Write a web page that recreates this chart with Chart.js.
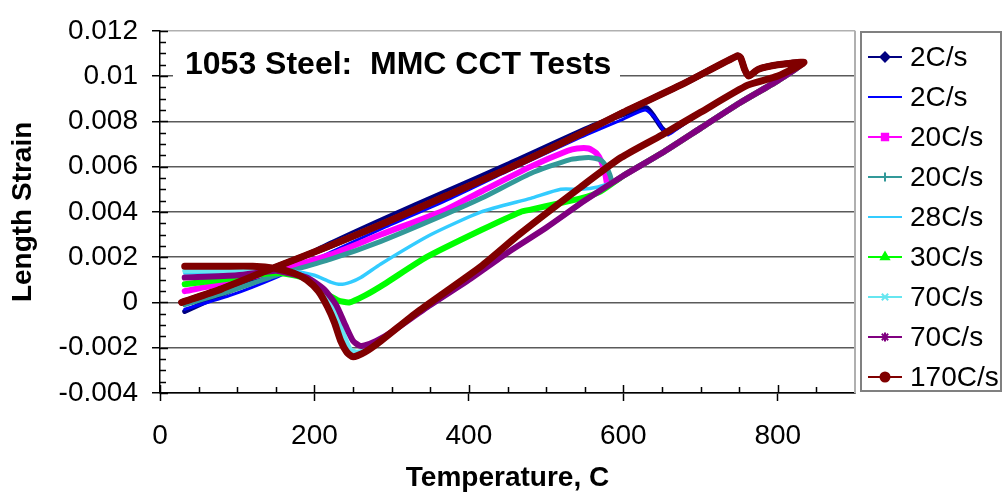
<!DOCTYPE html>
<html>
<head>
<meta charset="utf-8">
<script src="https://cdn.jsdelivr.net/npm/chart.js@4.4.1/dist/chart.umd.min.js"></script>
<style>
  html, body { margin: 0; padding: 0; background: #fff; }
</style>
</head>
<body>
<canvas id="cct" width="1003" height="498"></canvas>
<script>
// legend names, colours and markers, one per test
const seriesLabels = ['2C/s', '2C/s', '20C/s', '20C/s', '28C/s', '30C/s', '70C/s', '70C/s', '170C/s'];
const seriesColors = ['#000080', '#0000ff', '#ff00ff', '#339999', '#33ccff', '#00ff00', '#66e6f0', '#800080', '#800000'];
const markerStyles = ['rectRot', 'line', 'rect', 'cross', 'line', 'triangle', 'crossRot', 'star', 'circle'];
const lineWidths = [5, 3, 6, 5, 3.5, 6, 5, 6, 7];

const xTickLabels = ['0', '200', '400', '600', '800'];
const yTickLabels = ['-0.004', '-0.002', '0', '0.002', '0.004', '0.006', '0.008', '0.01', '0.012'];

// [temperature C, length strain] - heating leg, shared by every test
const heating = [[28, 0.0000], [80, 0.0006], [145, 0.0015], [220, 0.0025], [290, 0.0035], [370, 0.0047],
  [450, 0.0059], [530, 0.0072], [600, 0.0084], [680, 0.0097], [748, 0.0109]];
// drop at Ac and austenite heating to peak temperature
const austenite = [[752, 0.0108], [757, 0.0103], [762, 0.0100], [775, 0.0103], [800, 0.0105], [834, 0.0106]];

// cooling legs
const cool2a = [[800, 0.0100], [761, 0.0096], [700, 0.0084], [658, 0.0075], [650, 0.0077], [640, 0.0082],
  [630, 0.0086], [600, 0.0083], [560, 0.0078], [450, 0.0061], [370, 0.0049], [290, 0.0037], [220, 0.0026],
  [150, 0.0014], [90, 0.0005], [32, -0.0004]];
const cool2b = [[800, 0.0100], [761, 0.0096], [700, 0.0084], [658, 0.0074], [652, 0.0076], [640, 0.0082],
  [628, 0.0085], [600, 0.0081], [545, 0.0073], [450, 0.0058], [370, 0.0045], [290, 0.0033], [220, 0.0022],
  [150, 0.0011], [90, 0.0003], [32, -0.0003]];
const cool20a = [[800, 0.0098], [750, 0.0088], [700, 0.0077], [650, 0.0066], [600, 0.0056], [580, 0.0052],
  [577, 0.0056], [572, 0.0062], [565, 0.0066], [555, 0.0068], [540, 0.0068], [528, 0.0067], [480, 0.0060],
  [416, 0.0049], [370, 0.0041], [286, 0.0030], [220, 0.0021], [150, 0.0014], [90, 0.0009], [32, 0.0005]];
const cool20b = [[800, 0.0098], [750, 0.0088], [700, 0.0077], [650, 0.0066], [600, 0.0056], [586, 0.0053],
  [583, 0.0056], [578, 0.0060], [570, 0.0063], [555, 0.0064], [530, 0.0063], [480, 0.0057], [416, 0.0046],
  [370, 0.0039], [286, 0.0027], [220, 0.0019], [150, 0.0012], [90, 0.0005], [32, -0.0001]];
const cool28 = [[800, 0.0098], [750, 0.0088], [700, 0.0077], [650, 0.0066], [600, 0.0056], [585, 0.0053],
  [567, 0.0051], [545, 0.0050], [519, 0.0050], [480, 0.0046], [416, 0.0040], [351, 0.0030], [286, 0.0017],
  [260, 0.0011], [247, 0.0009], [234, 0.0008], [221, 0.0009], [200, 0.0012], [170, 0.0014], [150, 0.0014],
  [100, 0.0013], [32, 0.0013]];
const cool30 = [[800, 0.0098], [750, 0.0088], [700, 0.0077], [650, 0.0066], [600, 0.0056], [570, 0.0049],
  [545, 0.0046], [519, 0.0044], [480, 0.0041], [467, 0.0040], [416, 0.0032], [345, 0.0020], [290, 0.0008],
  [265, 0.0003], [245, 0.0000], [230, 0.0001], [210, 0.0005], [185, 0.0011], [150, 0.0013], [100, 0.0011],
  [32, 0.0008]];
const cool70a = [[800, 0.0098], [750, 0.0088], [700, 0.0077], [650, 0.0066], [600, 0.0056], [550, 0.0045],
  [500, 0.0033], [450, 0.0022], [400, 0.0010], [342, -0.0003], [300, -0.0013], [280, -0.0018], [265, -0.0021],
  [255, -0.0022], [247, -0.0021], [240, -0.0016], [230, -0.0007], [217, 0.0002], [197, 0.0009], [172, 0.0013],
  [150, 0.0014], [100, 0.0014], [32, 0.0014]];
const cool70b = [[800, 0.0098], [750, 0.0088], [700, 0.0077], [650, 0.0066], [600, 0.0056], [550, 0.0045],
  [500, 0.0033], [450, 0.0022], [400, 0.0010], [342, -0.0003], [300, -0.0013], [280, -0.0017], [265, -0.0019],
  [258, -0.0019], [250, -0.0017], [240, -0.0010], [228, -0.0001], [212, 0.0006], [190, 0.0011], [165, 0.0013],
  [150, 0.0014], [100, 0.0012], [32, 0.0011]];
const cool170 = [[800, 0.0100], [761, 0.0096], [700, 0.0084], [650, 0.0074], [597, 0.0064], [545, 0.0051],
  [465, 0.0030], [416, 0.0016], [334, -0.0004], [286, -0.0017], [265, -0.0022], [250, -0.0024], [242, -0.0022],
  [234, -0.0017], [226, -0.0009], [217, -0.0002], [205, 0.0005], [190, 0.0010], [173, 0.0013], [150, 0.0015],
  [120, 0.0016], [80, 0.0016], [32, 0.0016]];

const coolingLegs = [cool2a, cool2b, cool20a, cool20b, cool28, cool30, cool70a, cool70b, cool170];

const FONT = "'Liberation Sans', Arial, sans-serif";

// title box drawn inside the plot, hiding the gridline behind it
const titleBox = {
  id: 'titleBox',
  beforeDatasetsDraw(chart) {
    const { ctx, chartArea } = chart;
    ctx.save();
    ctx.fillStyle = '#fff';
    ctx.fillRect(chartArea.left + 13, chartArea.top + 5, 447, 50);
    ctx.fillStyle = '#000';
    ctx.font = 'bold 32px ' + FONT;
    ctx.textBaseline = 'alphabetic';
    ctx.fillText('1053 Steel:  MMC CCT Tests', chartArea.left + 25, chartArea.top + 43);
    ctx.restore();
  }
};

// inner tick marks (major + minor) and the grey right edge of the plot
const axisTicks = {
  id: 'axisTicks',
  afterDraw(chart) {
    const { ctx, chartArea } = chart;
    const xs = chart.scales.x, ys = chart.scales.y;
    ctx.save();
    ctx.strokeStyle = '#b0b0b0';
    ctx.lineWidth = 2;
    ctx.beginPath();
    ctx.moveTo(chartArea.right, chartArea.top);
    ctx.lineTo(chartArea.right, chartArea.bottom);
    ctx.stroke();

    ctx.strokeStyle = '#000';
    ctx.lineWidth = 1.5;
    ctx.beginPath();
    for (let k = 0; k <= 32; k++) {
      const py = Math.round(ys.getPixelForValue(-0.004 + k * 0.0005)) + 0.5;
      const len = k % 4 === 0 ? 8 : 6;
      ctx.moveTo(chartArea.left, py);
      ctx.lineTo(chartArea.left + len, py);
    }
    for (let k = 0; k <= 17; k++) {
      const px = Math.round(xs.getPixelForValue(k * 50)) + 0.5;
      const len = k % 4 === 0 ? 8 : 6;
      ctx.moveTo(px, chartArea.bottom);
      ctx.lineTo(px, chartArea.bottom - len);
    }
    ctx.stroke();
    ctx.restore();
  }
};

// boxed legend on the right: line with marker, then label
const sideLegend = {
  id: 'sideLegend',
  afterDraw(chart) {
    const { ctx } = chart;
    ctx.save();
    ctx.strokeStyle = '#808080';
    ctx.lineWidth = 2;
    ctx.strokeRect(861, 32, 140, 359);
    ctx.font = '28px ' + FONT;
    ctx.textBaseline = 'middle';
    chart.data.datasets.forEach((ds, i) => {
      const y = 57 + i * 40;
      ctx.strokeStyle = ds.borderColor;
      ctx.fillStyle = ds.borderColor;
      ctx.lineWidth = 2;
      ctx.beginPath();
      ctx.moveTo(868, y);
      ctx.lineTo(902, y);
      ctx.stroke();
      Chart.helpers.drawPoint(ctx, {
        pointStyle: markerStyles[i], radius: markerStyles[i] === 'line' ? 3 : 4.5,
        rotation: 0, borderWidth: 1.5
      }, 885, y);
      ctx.fillStyle = '#000';
      ctx.fillText(seriesLabels[i], 910, y + 1);
    });
    ctx.restore();
  }
};

const datasets = seriesLabels.map((label, i) => ({
  label: label,
  data: heating.concat(austenite, coolingLegs[i]).map(p => ({ x: p[0], y: p[1] })),
  showLine: true,
  borderColor: seriesColors[i],
  backgroundColor: seriesColors[i],
  borderWidth: lineWidths[i],
  borderJoinStyle: 'round',
  borderCapStyle: 'round',
  pointRadius: 0,
  tension: 0.2,
  order: seriesLabels.length - 1 - i
}));

new Chart(document.getElementById('cct'), {
  type: 'scatter',
  data: { datasets: datasets },
  options: {
    responsive: false,
    animation: false,
    layout: { padding: { top: 25, right: 148, left: 0, bottom: 0 } },
    plugins: { legend: { display: false }, tooltip: { enabled: false } },
    scales: {
      x: {
        type: 'linear', min: 0, max: 900,
        afterFit: s => { s.height = 105; },
        ticks: {
          stepSize: 200, includeBounds: false, autoSkip: false, maxRotation: 0,
          color: '#000', font: { family: FONT, size: 28 }, padding: 18,
          callback: (v, i) => xTickLabels[i]
        },
        grid: { drawOnChartArea: false, drawTicks: true, tickLength: 8, tickColor: '#000', tickWidth: 1.5 },
        border: { color: '#000', width: 1.5 },
        title: {
          display: true, text: 'Temperature, C', color: '#000',
          font: { family: FONT, size: 28, weight: 'bold' }, padding: { top: 0, bottom: 3 }
        }
      },
      y: {
        min: -0.004, max: 0.012,
        afterFit: s => { s.width = 160; },
        ticks: {
          stepSize: 0.002, autoSkip: false, color: '#000',
          font: { family: FONT, size: 28 }, padding: 14,
          callback: (v, i) => yTickLabels[i]
        },
        grid: {
          color: c => (c.tick && c.tick.value > 0.0119) ? '#b0b0b0' : '#5a5a5a',
          lineWidth: 1.5, tickLength: 8, tickColor: '#000', tickWidth: 1.5
        },
        border: { color: '#000', width: 1.5 },
        title: {
          display: true, text: 'Length Strain', color: '#000',
          font: { family: FONT, size: 28, weight: 'bold' }, padding: { top: 6, bottom: 0 }
        }
      }
    }
  },
  plugins: [titleBox, axisTicks, sideLegend]
});
</script>
</body>
</html>
